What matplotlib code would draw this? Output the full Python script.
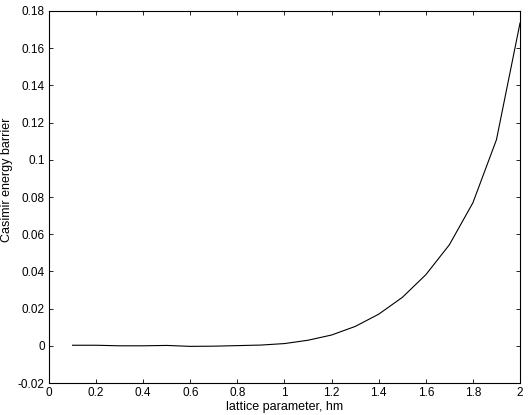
import numpy as np
import matplotlib
matplotlib.use("Agg")
import matplotlib.pyplot as plt

plt.rcParams['font.family'] = ['Liberation Sans', 'DejaVu Sans']

# lattice parameter (hm) and Casimir energy barrier
lattice = [0.1, 0.2, 0.3, 0.4, 0.5, 0.6, 0.7, 0.8, 0.9, 1.0,
           1.1, 1.2, 1.3, 1.4, 1.5, 1.6, 1.7, 1.8, 1.9, 2.0]
barrier = [0.0003, 0.0003, 0.0, 0.0, 0.0002, -0.0003, -0.0002, 0.0001, 0.0004, 0.0012,
           0.003, 0.0058, 0.0104, 0.017, 0.026, 0.0382, 0.0543, 0.0769, 0.1108, 0.1735]

xticks = [0, 0.2, 0.4, 0.6, 0.8, 1, 1.2, 1.4, 1.6, 1.8, 2]
yticks = [-0.02, 0, 0.02, 0.04, 0.06, 0.08, 0.1, 0.12, 0.14, 0.16, 0.18]

fig = plt.figure(figsize=(5.29, 4.15), dpi=100)
ax = fig.add_axes([0.0926, 0.0771, 0.8904, 0.8964])
ax.plot(lattice, barrier, color='k', linewidth=0.8)

ax.set_xlim(0, 2)
ax.set_ylim(-0.02, 0.18)
ax.set_xticks(xticks)
ax.set_xticklabels(['0', '0.2', '0.4', '0.6', '0.8', '1', '1.2', '1.4', '1.6', '1.8', '2'])
ax.set_yticks(yticks)
ax.set_yticklabels(['-0.02', '0', '0.02', '0.04', '0.06', '0.08', '0.1', '0.12', '0.14', '0.16', '0.18'])
ax.tick_params(direction='in', top=True, right=True, length=3, width=0.6, labelsize=8.5, pad=3)
for s in ax.spines.values():
    s.set_linewidth(0.8)

ax.set_xlabel('lattice parameter, hm', fontsize=9, labelpad=1)
ax.set_ylabel('Casimir energy barrier', fontsize=9)
ax.yaxis.set_label_coords(-0.076, 0.546)

fig.savefig('out.png', dpi=100)
